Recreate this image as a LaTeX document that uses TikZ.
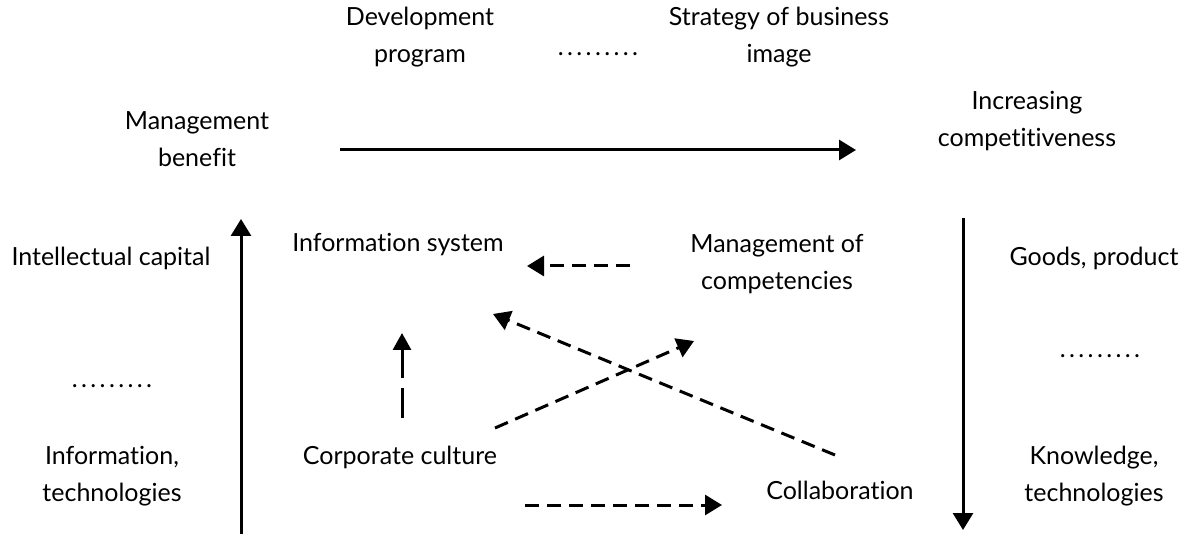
\documentclass[tikz,border=0pt]{standalone}
\usepackage{fontspec}
\setmainfont{Lato}[Ligatures={NoCommon,NoRequired,NoContextual,NoDiscretionary}]
\usetikzlibrary{arrows.meta}
\newcommand\mydots{.\kern3.4pt.\kern3.4pt.\kern3.4pt.\kern3.4pt.\kern3.4pt.\kern3.4pt.\kern3.4pt.\kern3.4pt.}
\begin{document}
\begin{tikzpicture}[x=1pt,y=-1pt,
  lbl/.style={inner sep=0pt,align=center,font=\fontsize{25}{37}\selectfont},
  solidarr/.style={line width=3pt,-{Triangle[length=17pt,width=20pt]}},
  dasharr/.style={line width=3pt,dash pattern=on 14pt off 8pt,-{Triangle[length=17pt,width=20pt]}}]
\useasboundingbox (0,0) rectangle (1186,534);
% texts
\node[lbl] (dev) at (420,37) {Development\\program};
\node[lbl] (dots1) at (598,54) {\mydots};
\node[lbl] (strat) at (779,37) {Strategy of business\\image};
\node[lbl] (mb) at (197,139) {Management\\benefit};
\node[lbl] (ic) at (1027,121) {Increasing\\competitiveness};
\node[lbl] (intel) at (111,258) {Intellectual capital};
\node[lbl] (infsys) at (398,245) {Information system};
\node[lbl] (moc) at (777,264) {Management of\\competencies};
\node[lbl] (goods) at (1094,258) {Goods, product};
\node[lbl] (dotsl) at (112,386) {\mydots};
\node[lbl] (dotsr) at (1100,356) {\mydots};
\node[lbl] (it) at (112,476) {Information,\\technologies};
\node[lbl] (cc) at (400,457) {Corporate culture};
\node[lbl] (coll) at (840,490) {Collaboration};
\node[lbl] (kt) at (1094,476) {Knowledge,\\technologies};
% connector ends
\coordinate (h1) at (340,150); \coordinate (h2) at (856,150);
\coordinate (l1) at (241,534); \coordinate (l2) at (241,219);
\coordinate (r1) at (963,218); \coordinate (r2) at (963,530);
\coordinate (a1) at (630,266); \coordinate (a2) at (527,266);
\coordinate (b1) at (835,455); \coordinate (b2) at (493,314);
\coordinate (c1) at (495,428); \coordinate (c2) at (694,341);
\coordinate (d1) at (402,418); \coordinate (d2) at (402,333);
\coordinate (e1) at (525,505); \coordinate (e2) at (722,505);
% connectors
\draw[solidarr] (h1) -- (h2);
\draw[solidarr] (l1) -- (l2);
\draw[solidarr] (r1) -- (r2);
\draw[dasharr] (a1) -- (a2);
\draw[dasharr] (b1) -- (b2);
\draw[dasharr] (c1) -- (c2);
\draw[line width=3pt,dash pattern=on 30pt off 10pt,-{Triangle[length=17pt,width=18pt]}] (d1) -- (d2);
\draw[dasharr] (e1) -- (e2);
\end{tikzpicture}
\end{document}
